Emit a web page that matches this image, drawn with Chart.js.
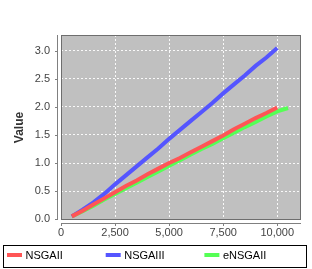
<!DOCTYPE html>
<html>
<head>
<meta charset="utf-8">
<script src="https://cdn.jsdelivr.net/npm/chart.js@4.4.1/dist/chart.umd.min.js"></script>
<style>
html,body{margin:0;padding:0;background:#fff;}
#wrap{width:312px;height:269px;}
</style>
</head>
<body>
<div id="wrap"><canvas id="c" width="312" height="269"></canvas></div>
<script>
const evaluations = [500,1000,1500,2000,2500,3000,3500,4000,4500,5000,5500,6000,6500,7000,7500,8000,8500,9000,9500,10000,10500];
const nsgaII  = [0.05,0.15,0.26,0.37,0.48,0.59,0.69,0.80,0.90,1.00,1.09,1.19,1.29,1.39,1.49,1.60,1.70,1.80,1.89,1.99];
const nsgaIII = [0.05,0.17,0.30,0.45,0.62,0.78,0.94,1.10,1.26,1.43,1.59,1.75,1.91,2.07,2.24,2.40,2.56,2.73,2.88,3.05];
const ensgaII = [0.05,0.14,0.24,0.35,0.45,0.55,0.65,0.75,0.85,0.95,1.05,1.15,1.25,1.34,1.44,1.54,1.64,1.73,1.83,1.92,1.98];
const seriesNames = ['NSGAII','NSGAIII','eNSGAII'];
const seriesColors = ['#ff5555','#5555ff','#55ff55'];
const xTicks = [0,2500,5000,7500,10000];
const yTicks = [0,0.5,1.0,1.5,2.0,2.5,3.0];
const xRange = [0, 11100], yRange = [-0.015, 3.28];
const yTitle = 'Value';

const toPoints = arr => arr.map((v,i) => ({x: evaluations[i], y: v}));
const allSeries = [nsgaII, nsgaIII, ensgaII];

const FONT = "'Liberation Sans', Arial, sans-serif";

const plotDecor = {
  id: 'plotDecor',
  beforeDraw(chart) {
    const {ctx, chartArea: a} = chart;
    ctx.save();
    ctx.fillStyle = '#c0c0c0';
    ctx.fillRect(a.left, a.top, a.right - a.left, a.bottom - a.top);
    ctx.restore();
  },
  afterDraw(chart) {
    const {ctx, chartArea: a, scales} = chart;
    ctx.save();
    ctx.strokeStyle = '#6e6e6e';
    ctx.lineWidth = 1;
    ctx.strokeRect(a.left + 0.5, a.top + 0.5, a.right - a.left - 1, a.bottom - a.top - 1);
    ctx.strokeStyle = '#808080';
    ctx.beginPath();
    ctx.moveTo(a.left - 3.5, a.top);
    ctx.lineTo(a.left - 3.5, a.bottom);
    scales.y.ticks.forEach(t => {
      const y = Math.round(scales.y.getPixelForValue(t.value)) + 0.5;
      ctx.moveTo(a.left - 6, y);
      ctx.lineTo(a.left - 3.5, y);
    });
    const xy = a.bottom + 3.5;
    ctx.moveTo(a.left, xy);
    ctx.lineTo(a.right, xy);
    scales.x.ticks.forEach(t => {
      const x = Math.round(scales.x.getPixelForValue(t.value)) + 0.5;
      ctx.moveTo(x, xy);
      ctx.lineTo(x, xy + 2.5);
    });
    ctx.stroke();
    ctx.strokeStyle = '#000';
    ctx.strokeRect(3.5, 245.5, 303, 22);
    ctx.font = '11px ' + FONT;
    ctx.textBaseline = 'middle';
    chart.data.datasets.forEach((ds, i) => {
      const x0 = 7 + i * 98.7;
      ctx.fillStyle = ds.borderColor;
      ctx.fillRect(x0, 253, 15, 4);
      ctx.fillStyle = '#000';
      ctx.fillText(ds.label, x0 + 18.5, 255.5);
    });
    ctx.restore();
  }
};

new Chart(document.getElementById('c'), {
  type: 'line',
  data: {
    datasets: allSeries.map((arr, i) => ({
      label: seriesNames[i],
      data: toPoints(arr),
      borderColor: seriesColors[i],
      backgroundColor: seriesColors[i],
      borderWidth: 4,
      pointRadius: 0,
      tension: 0,
      fill: false
    }))
  },
  options: {
    responsive: false,
    animation: false,
    devicePixelRatio: 1,
    layout: {padding: {top: 35, right: 11, bottom: 0, left: 0}},
    plugins: {legend: {display: false}, tooltip: {enabled: false}},
    scales: {
      x: {
        type: 'linear',
        min: xRange[0], max: xRange[1],
        afterBuildTicks(s) { s.ticks = xTicks.map(v => ({value: v})); },
        afterFit(s) { s.height = 49; },
        ticks: {autoSkip: false, maxRotation: 0, padding: 6,
          color: '#444', font: {family: FONT, size: 11},
          callback: v => v.toLocaleString('en-US')},
        grid: {color: 'rgba(255,255,255,0.9)', lineWidth: 1, drawTicks: false},
        border: {display: false, dash: [2, 2]}
      },
      y: {
        type: 'linear',
        min: yRange[0], max: yRange[1],
        afterBuildTicks(s) { s.ticks = yTicks.map(v => ({value: v})); },
        afterFit(s) { s.width = 61; },
        ticks: {autoSkip: false, padding: 11,
          color: '#444', font: {family: FONT, size: 11},
          callback: v => v.toFixed(1)},
        grid: {color: 'rgba(255,255,255,0.9)', lineWidth: 1, drawTicks: false},
        border: {display: false, dash: [2, 2]},
        title: {display: true, text: yTitle, color: '#333',
          font: {family: FONT, size: 12, weight: 'bold'}, padding: {top: 12, bottom: 0}}
      }
    }
  },
  plugins: [plotDecor]
});
</script>
</body>
</html>
